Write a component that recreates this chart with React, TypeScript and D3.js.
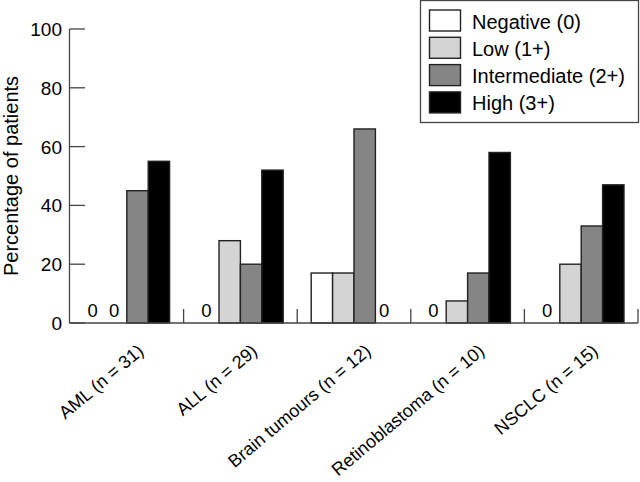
import {useEffect, useRef} from 'react';
import * as d3 from 'd3';

const categories = ['AML (n = 31)', 'ALL (n = 29)', 'Brain tumours (n = 12)', 'Retinoblastoma (n = 10)', 'NSCLC (n = 15)'];
const seriesNames = ['Negative (0)', 'Low (1+)', 'Intermediate (2+)', 'High (3+)'];
const negative = [0, 0, 17, 0, 0];
const low = [0, 28, 17, 7.5, 20];
const intermediate = [45, 20, 66, 17, 33];
const high = [55, 52, 0, 58, 47];
const yTicks = [0, 20, 40, 60, 80, 100];

const seriesValues = [negative, low, intermediate, high];
const fills = ['#ffffff', '#d4d4d4', '#858585', '#000000'];

const App = () => {
  const svgRef = useRef(null);
  const width = 640;
  const height = 482;

  useEffect(() => {
    const svg = d3.select(svgRef.current);
    svg.selectAll('*').remove();
    const font = '"Liberation Sans", Arial, sans-serif';
    const axisColor = '#444';

    const x0 = d3.scaleBand().domain(categories).range([70, 638]);
    const x1 = d3.scaleBand()
      .domain(seriesNames)
      .range([14, x0.bandwidth() - 14]);
    const y = d3.scaleLinear().domain([0, 100]).range([323, 29]);

    // bars
    seriesNames.forEach((s, si) => {
      svg.append('g')
        .selectAll('rect')
        .data(categories.map((c, ci) => ({c, v: seriesValues[si][ci]})).filter(d => d.v > 0))
        .enter().append('rect')
        .attr('x', d => x0(d.c) + x1(s))
        .attr('y', d => y(d.v))
        .attr('width', x1.bandwidth())
        .attr('height', d => y(0) - y(d.v))
        .attr('fill', fills[si])
        .attr('stroke', '#222')
        .attr('stroke-width', 1.4);

      // zero labels
      svg.append('g')
        .selectAll('text')
        .data(categories.map((c, ci) => ({c, v: seriesValues[si][ci]})).filter(d => d.v === 0))
        .enter().append('text')
        .attr('x', d => x0(d.c) + x1(s) + x1.bandwidth() / 2 - 2)
        .attr('y', y(0) - 6)
        .attr('text-anchor', 'middle')
        .style('font-family', font)
        .style('font-size', '18.5px')
        .text('0');
    });

    // y axis
    svg.append('line')
      .attr('x1', 69.5).attr('x2', 69.5)
      .attr('y1', y(100)).attr('y2', y(0))
      .attr('stroke', axisColor).attr('stroke-width', 1.3);
    svg.append('g')
      .selectAll('line')
      .data(yTicks)
      .enter().append('line')
      .attr('x1', 69.5).attr('x2', 85)
      .attr('y1', d => y(d)).attr('y2', d => y(d))
      .attr('stroke', axisColor).attr('stroke-width', 1.3);
    svg.append('g')
      .selectAll('text')
      .data(yTicks)
      .enter().append('text')
      .attr('x', 62)
      .attr('y', d => y(d) + 7)
      .attr('text-anchor', 'end')
      .style('font-family', font)
      .style('font-size', '19px')
      .text(d => d);

    // x axis
    svg.append('line')
      .attr('x1', 69.5).attr('x2', 638)
      .attr('y1', y(0)).attr('y2', y(0))
      .attr('stroke', axisColor).attr('stroke-width', 1.3);
    svg.append('g')
      .selectAll('line')
      .data(categories)
      .enter().append('line')
      .attr('x1', d => x0(d) + x0.bandwidth())
      .attr('x2', d => x0(d) + x0.bandwidth())
      .attr('y1', y(0)).attr('y2', y(0) - 14)
      .attr('stroke', axisColor).attr('stroke-width', 1.3);
    svg.append('g')
      .selectAll('text')
      .data(categories)
      .enter().append('text')
      .attr('transform', d => `translate(${x0(d) + x0.bandwidth() / 2 + 18}, 353) rotate(-40)`)
      .attr('text-anchor', 'end')
      .style('font-family', font)
      .style('font-size', '18px')
      .text(d => d);

    // y label
    svg.append('text')
      .attr('transform', 'translate(17.5, 176) rotate(-90)')
      .attr('text-anchor', 'middle')
      .style('font-family', font)
      .style('font-size', '20px')
      .text('Percentage of patients');

    // legend
    const legend = svg.append('g');
    legend.append('rect')
      .attr('x', 420.5).attr('y', 0.5)
      .attr('width', 218).attr('height', 122)
      .attr('fill', 'white')
      .attr('stroke', axisColor).attr('stroke-width', 1.3);
    const rows = legend.selectAll('g.row')
      .data(seriesNames)
      .enter().append('g')
      .attr('class', 'row')
      .attr('transform', (d, i) => `translate(0, ${20.5 + i * 27.3})`);
    rows.append('rect')
      .attr('x', 429.5).attr('y', -10.5)
      .attr('width', 31).attr('height', 21)
      .attr('fill', (d, i) => fills[i])
      .attr('stroke', '#222').attr('stroke-width', 1.4);
    rows.append('text')
      .attr('x', 472).attr('y', 8)
      .style('font-family', font)
      .style('font-size', '20px')
      .text(d => d);
  }, []);

  return <svg ref={svgRef} width={width} height={height}
    style={{position: 'absolute', left: 0, top: 0, background: 'white'}}/>;
};

export default App;
